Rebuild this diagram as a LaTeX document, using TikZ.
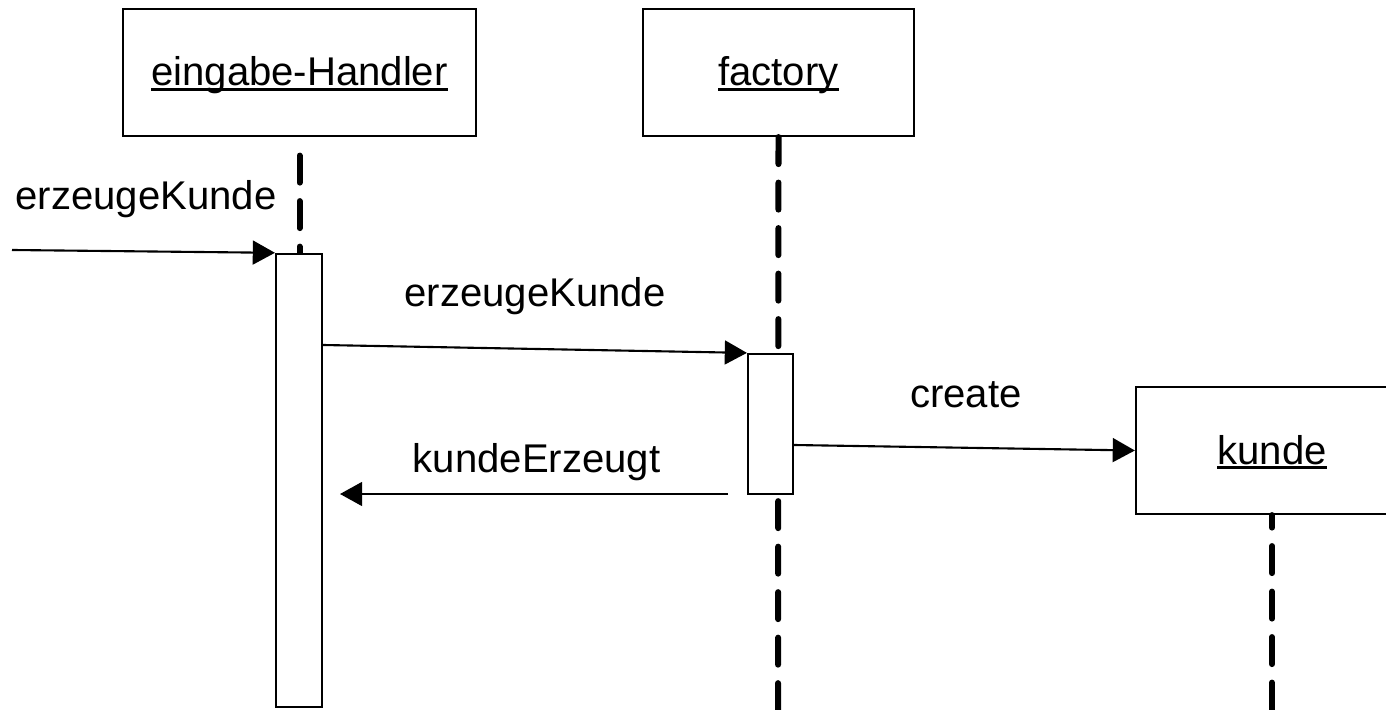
\documentclass[tikz,border=0pt]{standalone}
\usepackage{fontspec}
\setmainfont{Liberation Sans}
\usetikzlibrary{arrows.meta}
\newcommand\myul[1]{\setbox0\hbox{#1}\rlap{\vrule height -0.45pt depth 1.3pt width \wd0}\box0}
\begin{document}
\begin{tikzpicture}[x=0.01cm,y=-0.01cm,
  font=\fontsize{11.4pt}{13pt}\selectfont,
  head/.style={draw, line width=0.6pt, fill=white, rectangle, inner sep=0pt,
    text height=0.36cm, text depth=0.09cm},
  actbox/.style={draw, line width=0.6pt, fill=white, rectangle, inner sep=0pt},
  lifeline/.style={line width=1.71pt, line cap=round, dash pattern=on 7.68pt off 5.26pt},
  msg/.style={line width=0.6pt, -{Triangle[length=6.3pt,width=6.8pt]}},
  lbl/.style={anchor=base, inner sep=0pt}]
\useasboundingbox (0,0) rectangle (1386,710);
\fill[white] (0,0) rectangle (1386,710);
% heads
\node[head, minimum width=3.53cm, minimum height=1.27cm] (h1) at (299.5,72.5) {\myul{eingabe-Handler}};
\node[head, minimum width=2.71cm, minimum height=1.27cm] (h2) at (778.5,72.5) {\myul{factory}};
\node[head, minimum width=2.72cm, minimum height=1.27cm] (h3) at (1272,450.5) {\myul{kunde}};
% lifeline end points
\coordinate (e1) at (h1.south |- 0,254);
\coordinate (e2) at (778,710);
\coordinate (e3) at (1272,710);
\draw[lifeline, dash phase=7.68pt] (h1.south) -- (e1);
\draw[lifeline] (h2.south) -- (e2);
\draw[lifeline, dash phase=4.13pt] (h3.south) -- (e3);
% activation boxes
\node[actbox, minimum width=0.46cm, minimum height=4.53cm] (a1) at (299,480.5) {};
\node[actbox, minimum width=0.45cm, minimum height=1.40cm] (a2) at (770.5,424) {};
% message end points
\coordinate (s1) at (12,250);
\coordinate (s2) at (a1.east |- 0,345);
\coordinate (s3) at (a2.east |- 0,445);
\coordinate (s4) at (728,494);
\coordinate (t4) at (340,494);
\draw[msg] (s1) -- (a1.north west);
\draw[msg] (s2) -- (a2.north west);
\draw[msg] (s3) -- (h3.west);
\draw[msg] (s4) -- (t4);
% labels
\node[lbl] (l1) at (146,210) {erzeugeKunde};
\node[lbl] (l2) at (535,307) {erzeugeKunde};
\node[lbl] (l3) at (966,407) {create};
\node[lbl] (l4) at (536.5,472) {kundeErzeugt};
\end{tikzpicture}
\end{document}
